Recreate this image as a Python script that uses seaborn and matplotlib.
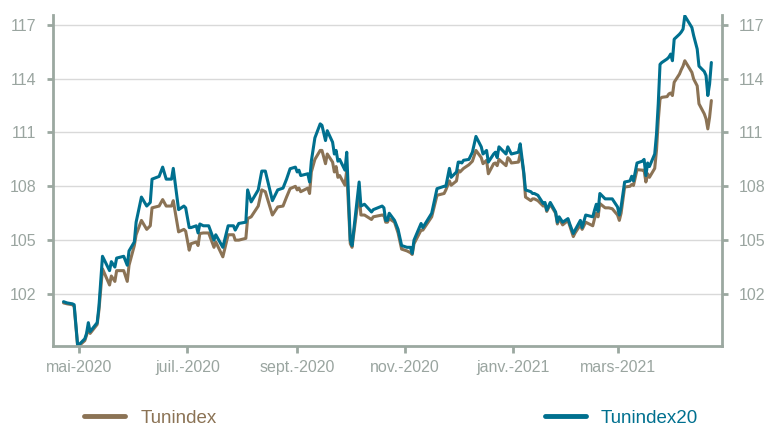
import pandas as pd
import matplotlib.pyplot as plt
import seaborn as sns

# -----------------------------
# Data
# -----------------------------
dates = [
    "2020-04-22", "2020-04-24", "2020-04-27", "2020-04-28", "2020-04-30",
    "2020-05-04", "2020-05-05", "2020-05-06", "2020-05-07", "2020-05-11",
    "2020-05-12", "2020-05-14", "2020-05-18", "2020-05-19", "2020-05-21",
    "2020-05-22", "2020-05-26", "2020-05-28", "2020-05-29", "2020-06-01",
    "2020-06-02", "2020-06-05", "2020-06-08", "2020-06-10", "2020-06-11",
    "2020-06-15", "2020-06-17", "2020-06-19", "2020-06-22", "2020-06-23",
    "2020-06-26", "2020-06-29", "2020-06-30", "2020-07-02", "2020-07-03",
    "2020-07-06", "2020-07-07", "2020-07-08", "2020-07-10", "2020-07-13",
    "2020-07-16", "2020-07-17", "2020-07-21", "2020-07-24", "2020-07-27",
    "2020-07-28", "2020-07-30", "2020-08-03", "2020-08-04", "2020-08-06",
    "2020-08-10", "2020-08-12", "2020-08-14", "2020-08-18", "2020-08-21",
    "2020-08-24", "2020-08-26", "2020-08-28", "2020-08-31", "2020-09-01",
    "2020-09-02", "2020-09-03", "2020-09-07", "2020-09-08", "2020-09-09",
    "2020-09-11", "2020-09-14", "2020-09-15", "2020-09-17", "2020-09-18",
    "2020-09-21", "2020-09-22", "2020-09-23", "2020-09-24", "2020-09-25",
    "2020-09-28", "2020-09-29", "2020-10-01", "2020-10-02", "2020-10-06",
    "2020-10-07", "2020-10-09", "2020-10-13", "2020-10-14", "2020-10-19",
    "2020-10-20", "2020-10-21", "2020-10-22", "2020-10-23", "2020-10-26",
    "2020-10-28", "2020-10-30", "2020-11-02", "2020-11-04", "2020-11-05",
    "2020-11-06", "2020-11-10", "2020-11-11", "2020-11-16", "2020-11-19",
    "2020-11-23", "2020-11-24", "2020-11-26", "2020-11-27", "2020-11-30",
    "2020-12-01", "2020-12-02", "2020-12-03", "2020-12-04", "2020-12-07",
    "2020-12-09", "2020-12-11", "2020-12-14", "2020-12-15", "2020-12-17",
    "2020-12-18", "2020-12-21", "2020-12-22", "2020-12-23", "2020-12-24",
    "2020-12-28", "2020-12-29", "2020-12-30", "2020-12-31", "2021-01-04",
    "2021-01-05", "2021-01-06", "2021-01-07", "2021-01-08", "2021-01-11",
    "2021-01-12", "2021-01-13", "2021-01-15", "2021-01-18", "2021-01-19",
    "2021-01-20", "2021-01-22", "2021-01-25", "2021-01-26", "2021-01-27",
    "2021-01-29", "2021-02-01", "2021-02-02", "2021-02-04", "2021-02-05",
    "2021-02-08", "2021-02-09", "2021-02-11", "2021-02-15", "2021-02-16",
    "2021-02-17", "2021-02-18", "2021-02-19", "2021-02-22", "2021-02-24",
    "2021-02-26", "2021-03-01", "2021-03-02", "2021-03-03", "2021-03-05",
    "2021-03-08", "2021-03-09", "2021-03-10", "2021-03-12", "2021-03-15",
    "2021-03-16", "2021-03-17", "2021-03-18", "2021-03-19", "2021-03-22",
    "2021-03-23", "2021-03-24", "2021-03-25", "2021-03-26", "2021-03-29",
    "2021-03-30", "2021-03-31", "2021-04-01", "2021-04-02", "2021-04-05",
    "2021-04-06", "2021-04-07", "2021-04-08", "2021-04-12", "2021-04-13",
    "2021-04-15", "2021-04-16", "2021-04-19", "2021-04-20", "2021-04-21",
    "2021-04-22", "2021-04-23",
]

tunindex20 = [
    101.57, 101.50, 101.45, 101.40, 99.10,
    99.50, 99.80, 100.40, 99.90, 100.40,
    101.30, 104.10, 103.30, 103.80, 103.50,
    104.00, 104.10, 103.60, 104.40, 104.90,
    106.00, 107.40, 106.90, 107.10, 108.40,
    108.55, 109.07, 108.40, 108.40, 109.00,
    106.70, 106.90, 106.80, 105.70, 105.70,
    105.80, 105.40, 105.90, 105.80, 105.80,
    105.00, 105.30, 104.60, 105.80, 105.80,
    105.56, 105.93, 106.00, 107.80, 107.13,
    107.80, 108.85, 108.85, 107.20, 107.80,
    107.90, 108.40, 108.98, 109.07, 108.80,
    108.90, 108.60, 108.70, 108.24, 109.40,
    110.70, 111.48, 111.40, 110.55, 111.10,
    110.46, 109.80, 110.00, 109.40, 109.50,
    108.90, 109.90, 105.00, 104.70, 108.24,
    106.90, 107.00, 106.57, 106.70, 106.90,
    106.80, 106.10, 106.10, 106.50, 106.10,
    105.60, 104.70, 104.60, 104.60, 104.26,
    105.00, 105.93, 105.70, 106.50, 107.87,
    108.00, 108.00, 109.00, 108.50, 108.80,
    109.35, 109.35, 109.30, 109.45, 109.50,
    109.90, 110.78, 110.20, 109.80, 110.00,
    109.35, 109.80, 109.90, 109.60, 110.20,
    109.80, 110.20, 110.00, 109.80, 109.90,
    110.37, 109.60, 108.80, 107.80, 107.70,
    107.60, 107.60, 107.50, 107.04, 107.10,
    106.67, 107.10, 106.57, 106.00, 106.30,
    106.00, 106.20, 105.90, 105.37, 105.56,
    106.10, 105.70, 106.40, 106.30, 106.67,
    107.00, 106.60, 107.60, 107.30, 107.30,
    107.30, 106.85, 106.40, 106.85, 108.24,
    108.30, 108.56, 108.30, 109.30, 109.40,
    109.50, 108.60, 109.30, 109.10, 109.80,
    110.90, 112.60, 114.80, 114.90, 115.10,
    115.20, 115.37, 115.00, 116.20, 116.48,
    116.60, 116.76, 117.50, 116.85, 116.40,
    115.65, 114.70, 114.40, 114.17, 113.06,
    113.70, 114.90,
]

tunindex = [
    101.50, 101.45, 101.40, 101.30, 99.05,
    99.40, 99.70, 100.10, 99.80, 100.30,
    101.10, 103.40, 102.50, 103.00, 102.70,
    103.30, 103.30, 102.70, 103.60, 104.70,
    105.30, 106.10, 105.60, 105.80, 106.80,
    106.90, 107.26, 106.90, 106.90, 107.20,
    105.46, 105.60, 105.50, 104.44, 104.80,
    104.90, 104.70, 105.37, 105.40, 105.40,
    104.60, 104.90, 104.07, 105.30, 105.30,
    105.00, 105.00, 105.10, 106.20, 106.30,
    106.90, 107.80, 107.70, 106.40, 106.85,
    106.90, 107.40, 107.87, 108.00, 107.80,
    107.90, 107.70, 107.90, 107.60, 108.80,
    109.50, 110.00, 110.00, 109.26, 109.80,
    109.35, 108.80, 109.10, 108.50, 108.60,
    108.06, 108.90, 104.80, 104.60, 107.68,
    106.40, 106.40, 106.15, 106.30, 106.40,
    106.40, 106.00, 106.00, 106.20, 106.00,
    105.40, 104.50, 104.40, 104.30, 104.20,
    104.80, 105.56, 105.56, 106.30, 107.50,
    107.60, 107.80, 108.30, 108.06, 108.30,
    108.90, 108.80, 108.90, 109.00, 109.20,
    109.40, 110.00, 109.60, 109.26, 109.45,
    108.70, 109.26, 109.30, 109.15, 109.50,
    109.15, 109.60, 109.50, 109.30, 109.35,
    109.80, 109.45, 108.70, 107.40, 107.20,
    107.30, 107.30, 107.20, 106.90, 107.00,
    106.60, 107.00, 106.50, 105.90, 106.20,
    105.85, 106.10, 105.80, 105.20, 105.40,
    105.85, 105.60, 106.00, 105.80, 106.20,
    106.50, 106.30, 107.04, 106.80, 106.80,
    106.75, 106.40, 106.10, 106.50, 107.96,
    108.00, 108.10, 108.05, 108.93, 108.90,
    108.90, 108.24, 108.70, 108.50, 109.00,
    110.00, 111.67, 112.87, 112.96, 113.00,
    113.15, 113.20, 113.06, 113.80, 114.26,
    114.50, 114.70, 115.00, 114.35, 113.98,
    113.60, 112.60, 112.04, 111.76, 111.20,
    111.85, 112.78,
]

y_ticks = [102, 105, 108, 111, 114, 117]
x_tick_dates = ["2020-05-01", "2020-07-01", "2020-09-01",
                "2020-11-01", "2021-01-01", "2021-03-01"]
x_tick_labels = ["mai-2020", "juil.-2020", "sept.-2020",
                 "nov.-2020", "janv.-2021", "mars-2021"]

# -----------------------------
# Build long table for seaborn
# -----------------------------
df = pd.DataFrame({
    "date": pd.to_datetime(dates),
    "Tunindex": tunindex,
    "Tunindex20": tunindex20,
})
long_df = df.melt(id_vars="date", var_name="serie", value_name="valeur")

brown = "#8B7355"
blue = "#00708F"
axis_grey = "#9BA8A0"
label_grey = "#9AA5A0"

sns.set_style("white")
plt.rcParams["font.family"] = ["Liberation Sans", "DejaVu Sans"]

fig = plt.figure(figsize=(7.67, 4.29), dpi=100)
ax = fig.add_axes([0.069, 0.1935, 0.8723, 0.7716])

sns.lineplot(
    data=long_df,
    x="date",
    y="valeur",
    hue="serie",
    hue_order=["Tunindex", "Tunindex20"],
    palette=[brown, blue],
    linewidth=2.2,
    ax=ax,
)

# axes limits
ax.set_xlim(pd.Timestamp("2020-04-16"), pd.Timestamp("2021-04-29"))
ax.set_ylim(99.1, 117.55)

ax.set_yticks(y_ticks)
ax.set_yticklabels([str(v) for v in y_ticks])
ax.set_xticks(pd.to_datetime(x_tick_dates))
ax.set_xticklabels(x_tick_labels)
ax.set_xlabel("")
ax.set_ylabel("")

ax.yaxis.grid(True, color="#D9D9D9", linewidth=1.0)
ax.xaxis.grid(False)
ax.set_axisbelow(True)

for side in ["left", "right", "bottom"]:
    ax.spines[side].set_visible(True)
    ax.spines[side].set_color(axis_grey)
    ax.spines[side].set_linewidth(2.0)
ax.spines["top"].set_visible(False)

ax.tick_params(axis="y", left=True, right=True, labelleft=True, labelright=True,
               direction="out", length=4, width=2, color=axis_grey,
               labelcolor=label_grey, labelsize=11.5, pad=8)
ax.tick_params(axis="x", bottom=True, direction="out", length=5, width=2,
               color=axis_grey, labelcolor=label_grey, labelsize=11.5, pad=5)

# legend at the bottom, text coloured like the lines
ax.get_legend().remove()
handles, labels = ax.get_legend_handles_labels()
leg = fig.legend(
    handles, labels,
    loc="center", bbox_to_anchor=(0.51, 0.025),
    ncol=2, frameon=False, fontsize=13.5,
    handlelength=2.2, handletextpad=0.8, columnspacing=17.5,
    labelcolor="linecolor", borderpad=0.2,
)
for line in leg.get_lines():
    line.set_linewidth(3.5)

fig.savefig("out.png", dpi=100)
